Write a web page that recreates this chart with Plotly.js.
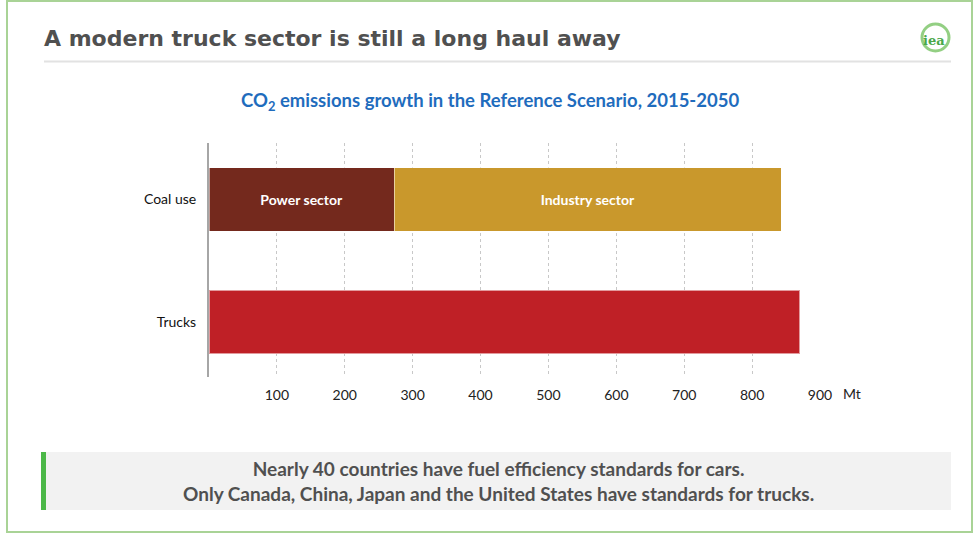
<!DOCTYPE html>
<html>
<head>
<meta charset="utf-8">
<script src="https://cdn.plot.ly/plotly-3.0.1.min.js"></script>
<style>
  html, body { margin: 0; padding: 0; background: #ffffff; }
  #chart { width: 973px; height: 533px; }
</style>
</head>
<body>
<div id="chart"></div>
<script>
// Categories on the vertical axis (bottom to top)
const categories = ['Trucks', 'Coal use'];

// Coal use split by sector (Mt CO2 growth, 2015-2050)
const coalSegments = ['Power sector', 'Industry sector'];
const coalValues = [273, 570];
const coalColors = ['#74291d', '#c9982c'];

// Road freight
const truckValues = [870];
const truckColor = '#bf2026';

// Horizontal axis ticks
const tickValues = [100, 200, 300, 400, 500, 600, 700, 800, 900];
const tickLabels = ['100', '200', '300', '400', '500', '600', '700', '800', '900'];
const unitLabel = 'Mt';

// Page text
const pageTitle = 'A modern truck sector is still a long haul away';
const chartTitle = 'CO<sub>2</sub> emissions growth in the Reference Scenario, 2015-2050';
const noteLines = [
  'Nearly 40 countries have fuel efficiency standards for cars.',
  'Only Canada, China, Japan and the United States have standards for trucks.'
];

// Plot area in pixels
const W = 973, H = 533;
const M = { l: 209, r: 153, t: 143, b: 156 };
const PW = W - M.l - M.r, PH = H - M.t - M.b;
const px = x => (x - M.l) / PW;          // pixel x -> paper x
const py = y => (H - M.b - y) / PH;       // pixel y -> paper y

const barLine = { color: 'rgba(255,255,255,0.55)', width: 1 };

const traces = coalSegments.map((name, i) => ({
  type: 'bar',
  orientation: 'h',
  name: name,
  y: [categories[1]],
  x: [coalValues[i]],
  width: 0.515,
  marker: { color: coalColors[i], line: barLine },
  text: [name],
  textposition: 'inside',
  insidetextanchor: 'middle',
  textfont: { family: 'Lato', size: 14, color: '#ffffff', weight: 700 },
  hoverinfo: 'x+name'
}));

traces.push({
  type: 'bar',
  orientation: 'h',
  name: categories[0],
  y: [categories[0]],
  x: truckValues,
  width: 0.515,
  marker: { color: truckColor, line: barLine },
  hoverinfo: 'x+name'
});

const shapes = [
  // page frame
  { type: 'rect', xref: 'paper', yref: 'paper',
    x0: px(7), x1: px(972), y0: py(532), y1: py(1),
    line: { color: '#a9d396', width: 2 }, fillcolor: 'rgba(0,0,0,0)', layer: 'below' },
  // rule under the heading
  { type: 'line', xref: 'paper', yref: 'paper',
    x0: px(44), x1: px(951), y0: py(61.5), y1: py(61.5),
    line: { color: '#e2e2e2', width: 2 } },
  // note box
  { type: 'rect', xref: 'paper', yref: 'paper',
    x0: px(43), x1: px(951), y0: py(510), y1: py(452),
    line: { width: 0 }, fillcolor: '#f2f2f2', layer: 'below' },
  { type: 'rect', xref: 'paper', yref: 'paper',
    x0: px(41), x1: px(46), y0: py(510), y1: py(452),
    line: { width: 0 }, fillcolor: '#4cb848' },
  // logo ring
  { type: 'circle', xref: 'paper', yref: 'paper',
    x0: px(922), x1: px(949), y0: py(51), y1: py(24),
    line: { color: '#93cf83', width: 3 }, fillcolor: 'rgba(0,0,0,0)' }
];

const annotations = [
  { xref: 'paper', yref: 'paper', x: px(42), y: py(38), xanchor: 'left', yanchor: 'middle',
    text: pageTitle, showarrow: false,
    font: { family: 'DejaVu Sans', size: 22, color: '#505050', weight: 700 } },
  { xref: 'paper', yref: 'paper', x: px(490), y: py(101), xanchor: 'center', yanchor: 'middle',
    text: chartTitle, showarrow: false,
    font: { family: 'Lato', size: 18.5, color: '#1f6cbd', weight: 700 } },
  { xref: 'paper', yref: 'paper', x: px(841), y: py(393), xanchor: 'left', yanchor: 'middle',
    text: unitLabel, showarrow: false,
    font: { family: 'Lato', size: 14, color: '#222222' } },
  { xref: 'paper', yref: 'paper', x: px(934), y: py(40), xanchor: 'center', yanchor: 'middle',
    text: '<b>iea</b>', showarrow: false,
    font: { family: 'DejaVu Serif', size: 13, color: '#4aa84a' } },
  { xref: 'paper', yref: 'paper', x: px(498), y: py(481), xanchor: 'center', yanchor: 'middle',
    text: noteLines.join('<br>'), showarrow: false, align: 'center',
    font: { family: 'Lato', size: 19, color: '#505050', weight: 700 } }
];

const layout = {
  width: W, height: H,
  margin: M,
  paper_bgcolor: 'rgba(0,0,0,0)',
  plot_bgcolor: 'rgba(0,0,0,0)',
  barmode: 'stack',
  showlegend: false,
  xaxis: {
    range: [0, 900],
    tickvals: tickValues,
    ticktext: tickLabels,
    showgrid: true,
    gridcolor: '#c8c8c8',
    griddash: 'dot',
    gridwidth: 1,
    zeroline: false,
    showline: false,
    ticks: '',
    ticklabelstandoff: 8,
    tickfont: { family: 'Lato', size: 14, color: '#222222' }
  },
  yaxis: {
    type: 'category',
    categoryorder: 'array',
    categoryarray: categories,
    range: [-0.449, 1.461],
    showgrid: false,
    zeroline: false,
    showline: true,
    linecolor: '#a6a6a6',
    linewidth: 2,
    ticks: '',
    ticklabelstandoff: 8,
    tickfont: { family: 'Lato', size: 14, color: '#111111' }
  },
  shapes: shapes,
  annotations: annotations
};

Plotly.newPlot('chart', traces, layout, { displayModeBar: false, staticPlot: true });
</script>
</body>
</html>
